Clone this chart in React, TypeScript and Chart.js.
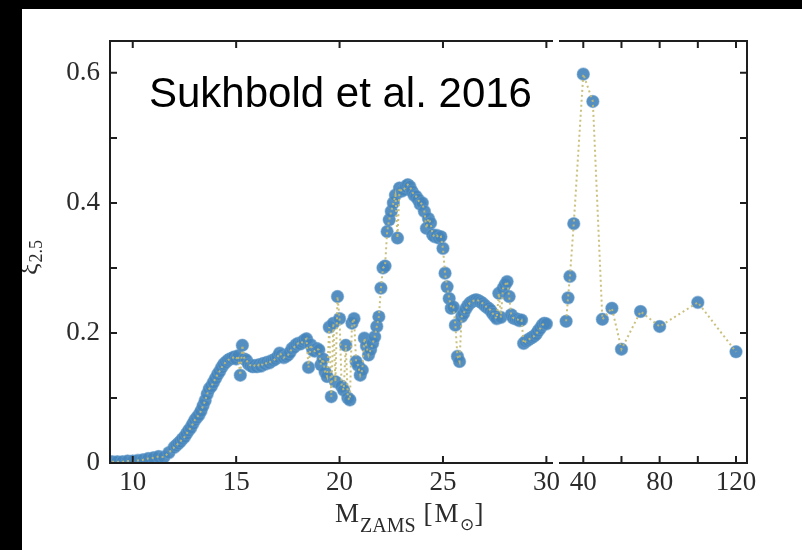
import { useEffect, useRef } from "react";
import { Chart, registerables } from "chart.js";

Chart.register(...registerables);

// Compactness ξ2.5 versus ZAMS mass (Sukhbold et al. 2016 models)
const LEFT_MASS = [
  9.0, 9.25, 9.5, 9.75, 10.0, 10.25, 10.5, 10.75, 11.0, 11.25, 11.5, 11.75, 12.0,
  12.1, 12.2, 12.3, 12.4, 12.5, 12.6, 12.7, 12.8, 12.9,
  13.0, 13.1, 13.2, 13.3, 13.4, 13.5, 13.6, 13.7, 13.8, 13.9,
  14.0, 14.1, 14.2, 14.3, 14.4, 14.5, 14.6, 14.7, 14.8, 14.9,
  15.0, 15.1, 15.2, 15.3, 15.4, 15.5, 15.6, 15.7, 15.8, 15.9,
  16.0, 16.1, 16.2, 16.3, 16.4, 16.5, 16.6, 16.7, 16.8, 16.9,
  17.0, 17.1, 17.2, 17.3, 17.4, 17.5, 17.6, 17.7, 17.8, 17.9,
  18.0, 18.1, 18.2, 18.3, 18.4, 18.5, 18.6, 18.7, 18.8, 18.9,
  19.0, 19.1, 19.2, 19.3, 19.4, 19.5, 19.6, 19.7, 19.8, 19.9,
  20.0, 20.1, 20.2, 20.3, 20.4, 20.5, 20.6, 20.7, 20.8, 20.9,
  21.0, 21.1, 21.2, 21.3, 21.4, 21.5, 21.6, 21.7, 21.8, 21.9,
  22.0, 22.1, 22.2, 22.3, 22.4, 22.5, 22.6, 22.7, 22.8, 22.9,
  23.0, 23.1, 23.2, 23.3, 23.4, 23.5, 23.6, 23.7, 23.8, 23.9,
  24.0, 24.1, 24.2, 24.3, 24.4, 24.5, 24.6, 24.7, 24.8, 24.9,
  25.0, 25.1, 25.2, 25.3, 25.4, 25.5, 25.6, 25.7, 25.8, 25.9,
  26.0, 26.1, 26.2, 26.3, 26.4, 26.5, 26.6, 26.7, 26.8, 26.9,
  27.0, 27.1, 27.2, 27.3, 27.4, 27.5, 27.6, 27.7, 27.8, 27.9,
  28.0, 28.1, 28.2, 28.3, 28.4, 28.5, 28.6, 28.7, 28.8, 28.9,
  29.0, 29.1, 29.2, 29.3, 29.4, 29.5, 29.6, 29.7, 29.8, 29.9,
  30.0,
];

const LEFT_XI = [
  0.002, 0.002, 0.002, 0.003, 0.003, 0.004, 0.005, 0.007, 0.008, 0.010, 0.009, 0.016, 0.024,
  0.027, 0.030, 0.033, 0.037, 0.040, 0.045, 0.050, 0.054, 0.060,
  0.066, 0.070, 0.074, 0.080, 0.088, 0.096, 0.106, 0.114, 0.118, 0.124,
  0.130, 0.136, 0.141, 0.147, 0.152, 0.155, 0.158, 0.160, 0.161, 0.163,
  0.160, 0.165, 0.135, 0.181, 0.160, 0.158, 0.152, 0.150, 0.148, 0.150,
  0.148, 0.151, 0.149, 0.153, 0.152, 0.155, 0.154, 0.157, 0.158, 0.160,
  0.163, 0.169, 0.166, 0.162, 0.164, 0.166, 0.170, 0.176, 0.178, 0.182,
  0.184, 0.183, 0.186, 0.189, 0.191, 0.147, 0.182, 0.174, 0.172, 0.176,
  0.174, 0.151, 0.160, 0.140, 0.133, 0.209, 0.102, 0.215, 0.125, 0.256,
  0.222, 0.118, 0.112, 0.181, 0.100, 0.097, 0.215, 0.222, 0.156, 0.150,
  0.135, 0.143, 0.192, 0.180, 0.166, 0.174, 0.184, 0.194, 0.210, 0.225,
  0.269, 0.300, 0.303, 0.356, 0.374, 0.387, 0.400, 0.412, 0.346, 0.423,
  0.418, 0.420, 0.425, 0.428, 0.425, 0.418, 0.412, 0.410, 0.405, 0.398,
  0.400, 0.387, 0.361, 0.376, 0.369, 0.351, 0.348, 0.350, 0.346, 0.348,
  0.330, 0.292, 0.271, 0.253, 0.238, 0.240, 0.212, 0.164, 0.156, 0.225,
  0.230, 0.237, 0.242, 0.246, 0.248, 0.250, 0.251, 0.250, 0.248, 0.246,
  0.243, 0.240, 0.238, 0.235, 0.230, 0.226, 0.222, 0.261, 0.224, 0.268,
  0.274, 0.279, 0.256, 0.228, 0.223, 0.222, 0.221, 0.219, 0.220, 0.184,
  0.187, 0.189, 0.191, 0.193, 0.195, 0.198, 0.203, 0.207, 0.212, 0.215,
  0.214,
];

const RIGHT_MASS = [31, 32, 33, 35, 40, 45, 50, 55, 60, 70, 80, 100, 120];
const RIGHT_XI = [0.218, 0.254, 0.287, 0.368, 0.598, 0.556, 0.221, 0.238, 0.175, 0.233, 0.210, 0.247, 0.171];

const LEFT_TICKS = [10, 15, 20, 25, 30];
const RIGHT_TICKS = [40, 80, 120];
const RIGHT_MINOR_TICKS = [60, 100];
const Y_TICKS = [0, 0.2, 0.4, 0.6];
const Y_MINOR_TICKS = [0.1, 0.3, 0.5];

const ANNOTATION = "Sukhbold et al. 2016";

const LEFT_PANEL_PX = 443;
const PANEL_GAP_PX = 6;
const TICK_LEN = 7;
const INK = "#1e1e1e";
const SERIF = "'Liberation Serif', 'Times New Roman', serif";
const SANS = "'Liberation Sans', Arial, sans-serif";

const MARKER_FILL = "rgba(70,133,188,0.92)";
const MARKER_EDGE = "rgba(100,155,202,0.5)";
const LINE_COLOR = "rgba(196,186,112,0.9)";

const toPoints = (xs: number[], ys: number[]) => xs.map((x, i) => ({ x, y: ys[i] }));

// Splits the bottom row between the two mass axes and leaves a small break.
const brokenAxisLayout = {
  id: "brokenAxisLayout",
  afterLayout(chart: any) {
    const a = chart.chartArea;
    const x = chart.scales.x;
    const x2 = chart.scales.x2;
    const split = a.left + LEFT_PANEL_PX;
    x.left = a.left;
    x.right = split;
    x.width = split - a.left;
    x2.left = split + PANEL_GAP_PX;
    x2.right = a.right;
    x2.width = a.right - x2.left;
    x.configure();
    x2.configure();
  },
};

// Frame with inward tick marks on both panels.
const frameAndTicks = {
  id: "frameAndTicks",
  afterDatasetsDraw(chart: any) {
    const { ctx, chartArea: a } = chart;
    const x = chart.scales.x;
    const x2 = chart.scales.x2;
    const y = chart.scales.y;
    ctx.save();
    ctx.strokeStyle = INK;
    ctx.lineWidth = 2;
    ctx.lineJoin = "miter";
    ctx.lineCap = "butt";

    ctx.beginPath();
    ctx.moveTo(x.right, a.top);
    ctx.lineTo(x.left, a.top);
    ctx.lineTo(x.left, a.bottom);
    ctx.lineTo(x.right, a.bottom);
    ctx.stroke();

    ctx.beginPath();
    ctx.moveTo(x2.left, a.top);
    ctx.lineTo(x2.right, a.top);
    ctx.lineTo(x2.right, a.bottom);
    ctx.lineTo(x2.left, a.bottom);
    ctx.stroke();

    ctx.beginPath();
    const vTick = (px: number) => {
      ctx.moveTo(px, a.bottom);
      ctx.lineTo(px, a.bottom - TICK_LEN);
      ctx.moveTo(px, a.top);
      ctx.lineTo(px, a.top + TICK_LEN);
    };
    LEFT_TICKS.forEach((v) => vTick(x.getPixelForValue(v)));
    [...RIGHT_TICKS, ...RIGHT_MINOR_TICKS].forEach((v) => vTick(x2.getPixelForValue(v)));
    [...Y_TICKS, ...Y_MINOR_TICKS].forEach((v) => {
      if (v === 0) return;
      const py = y.getPixelForValue(v);
      ctx.moveTo(x.left, py);
      ctx.lineTo(x.left + TICK_LEN, py);
      ctx.moveTo(x2.right, py);
      ctx.lineTo(x2.right - TICK_LEN, py);
    });
    ctx.stroke();
    ctx.restore();
  },
};

// Axis titles and the source annotation.
const titles = {
  id: "titles",
  afterDraw(chart: any) {
    const { ctx, chartArea: a } = chart;
    ctx.save();
    ctx.fillStyle = "#000";
    ctx.textBaseline = "alphabetic";
    ctx.textAlign = "left";

    ctx.font = `42px ${SANS}`;
    ctx.fillText(ANNOTATION, a.left + 39, a.top + 66);

    // x title: M_ZAMS [M_⊙]
    ctx.fillStyle = "#2b2b2b";
    let cx = a.left + 225;
    const base = a.bottom + 59;
    const put = (t: string, size: number, dy: number, gapAfter: number) => {
      ctx.font = `${size}px ${SERIF}`;
      ctx.fillText(t, cx, base + dy);
      cx += ctx.measureText(t).width + gapAfter;
    };
    put("M", 27, 0, 1);
    put("ZAMS", 20, 10, 8);
    put("[", 27, 0, 2);
    put("M", 27, 0, 1);
    put("\u2299", 17, 8, 1);
    put("]", 27, 0, 0);

    // y title: ξ_2.5, rotated
    ctx.translate(a.left - 73, a.top + 234);
    ctx.rotate(-Math.PI / 2);
    ctx.font = `26px ${SERIF}`;
    ctx.fillText("\u03BE", 0, 0);
    const w = ctx.measureText("\u03BE").width;
    ctx.font = `18px ${SERIF}`;
    ctx.fillText("2.5", w + 1, 5);
    ctx.restore();
  },
};

export default function App() {
  const canvasRef = useRef<HTMLCanvasElement | null>(null);

  useEffect(() => {
    const canvas = canvasRef.current;
    if (!canvas) return;

    const tickFont = { family: SERIF, size: 27 };
    const lineSet = (xs: number[], ys: number[], axis: string) => ({
      data: toPoints(xs, ys),
      xAxisID: axis,
      yAxisID: "y",
      showLine: true,
      pointRadius: 0,
      borderColor: LINE_COLOR,
      borderWidth: 2,
      borderDash: [2, 3],
      order: 0,
      clip: 0,
    });
    const markerSet = (xs: number[], ys: number[], axis: string) => ({
      data: toPoints(xs, ys),
      xAxisID: axis,
      yAxisID: "y",
      showLine: false,
      pointRadius: 6.2,
      pointBackgroundColor: MARKER_FILL,
      pointBorderColor: MARKER_EDGE,
      pointBorderWidth: 1.2,
      order: 1,
      clip: 0,
    });

    const chart = new Chart(canvas, {
      type: "scatter",
      data: {
        datasets: [
          lineSet(LEFT_MASS, LEFT_XI, "x"),
          markerSet(LEFT_MASS, LEFT_XI, "x"),
          lineSet(RIGHT_MASS, RIGHT_XI, "x2"),
          markerSet(RIGHT_MASS, RIGHT_XI, "x2"),
        ] as any,
      },
      options: {
        responsive: false,
        animation: false,
        events: [],
        layout: { padding: { left: 28, right: 55, top: 32, bottom: 27 } },
        plugins: { legend: { display: false }, tooltip: { enabled: false } },
        scales: {
          x: {
            type: "linear",
            position: "bottom",
            stack: "mass",
            stackWeight: 443,
            min: 8.9,
            max: 30.32,
            afterBuildTicks: (s: any) => {
              s.ticks = LEFT_TICKS.map((value) => ({ value }));
            },
            afterFit: (s: any) => {
              s.height = 60;
            },
            ticks: { font: tickFont, color: "#2b2b2b", padding: 4, maxRotation: 0, autoSkip: false, callback: (v: any) => String(v) },
            grid: { display: false, drawTicks: false },
            border: { display: false },
          },
          x2: {
            type: "linear",
            position: "bottom",
            stack: "mass",
            stackWeight: 188,
            min: 27.27,
            max: 125.76,
            afterBuildTicks: (s: any) => {
              s.ticks = RIGHT_TICKS.map((value) => ({ value }));
            },
            afterFit: (s: any) => {
              s.height = 60;
            },
            ticks: { font: tickFont, color: "#2b2b2b", padding: 4, maxRotation: 0, autoSkip: false, callback: (v: any) => String(v) },
            grid: { display: false, drawTicks: false },
            border: { display: false },
          },
          y: {
            type: "linear",
            position: "left",
            min: 0,
            max: 0.649,
            afterBuildTicks: (s: any) => {
              s.ticks = Y_TICKS.map((value) => ({ value }));
            },
            afterFit: (s: any) => {
              s.width = 60;
            },
            ticks: { font: tickFont, color: "#2b2b2b", padding: 10, callback: (v: any) => String(v) },
            grid: { display: false, drawTicks: false },
            border: { display: false },
          },
        } as any,
      },
      plugins: [brokenAxisLayout, frameAndTicks, titles],
    });

    return () => chart.destroy();
  }, []);

  return (
    <div style={{ position: "fixed", left: 0, top: 0, width: 802, height: 550, background: "#000", overflow: "hidden" }}>
      <canvas
        ref={canvasRef}
        width={780}
        height={541}
        style={{ position: "absolute", left: 22, top: 9, width: 780, height: 541, background: "#fff", display: "block" }}
      />
    </div>
  );
}
